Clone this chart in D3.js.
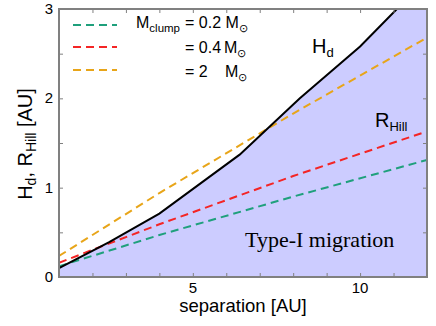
<!DOCTYPE html>
<html>
<head>
<meta charset="utf-8">
<script src="https://cdn.jsdelivr.net/npm/d3@7"></script>
<style>
  body { margin: 0; background: #fff; }
  svg { display: block; font-family: "Liberation Sans", Arial, sans-serif; }
</style>
</head>
<body>
<div id="chart"></div>
<script>
// data
var hdSep = [1, 2.5, 4, 6.4, 8.2, 10, 11.1, 12];
var hdVal = [0.10, 0.39, 0.71, 1.37, 2.0, 2.58, 3.0, 3.32];

var lineSep = [1, 4, 8, 12];
var rhill02 = [0.12, 0.47, 0.90, 1.31];
var rhill04 = [0.16, 0.59, 1.13, 1.63];
var rhill2  = [0.235, 0.94, 1.83, 2.68];

var legendLabels = ["= 0.2", "= 0.4", "= 2"];
var seriesColors = ["#1fa07c", "#f42525", "#e8a519"];

var xTicks = [5, 10];
var yTicks = [0, 1, 2, 3];

var margin = { top: 9, right: 9, bottom: 49, left: 59 },
    width = 436 - margin.left - margin.right,
    height = 326 - margin.top - margin.bottom;

var svg = d3.select("#chart")
    .append("svg")
    .attr("width", 436)
    .attr("height", 326);

var g = svg.append("g")
    .attr("transform", "translate(" + margin.left + "," + margin.top + ")");

var x = d3.scaleLinear().domain([1, 12]).range([0, width]);
var y = d3.scaleLinear().domain([0, 3]).range([height, 0]);

g.append("clipPath").attr("id", "clip")
    .append("rect").attr("width", width).attr("height", height);

var plot = g.append("g").attr("clip-path", "url(#clip)");

// shaded region below H_d
var hd = hdSep.map(function (s, i) { return [s, hdVal[i]]; });
plot.append("path")
    .datum(hd)
    .attr("fill", "#ccccff")
    .attr("d", d3.area()
        .x(function (d) { return x(d[0]); })
        .y0(y(0))
        .y1(function (d) { return y(d[1]); }));

var line = d3.line()
    .x(function (d) { return x(d[0]); })
    .y(function (d) { return y(d[1]); });

// R_Hill lines
[rhill02, rhill04, rhill2].forEach(function (vals, i) {
    plot.append("path")
        .datum(lineSep.map(function (s, j) { return [s, vals[j]]; }))
        .attr("fill", "none")
        .attr("stroke", seriesColors[i])
        .attr("stroke-width", 2)
        .attr("stroke-dasharray", "8,5")
        .attr("d", line);
});

// H_d line
plot.append("path")
    .datum(hd)
    .attr("fill", "none")
    .attr("stroke", "#000")
    .attr("stroke-width", 2)
    .attr("d", line);

// frame + ticks (inward, on all four sides)
var frameCol = "#808080";
function tickAxis(axis) {
    return function (sel) {
        sel.call(axis);
        sel.select(".domain").remove();
        sel.selectAll("line").attr("stroke", frameCol);
    };
}
var xMinor = d3.range(1, 13);
var yMinor = d3.range(0, 3.01, 0.5);

g.append("g").attr("transform", "translate(0," + height + ")")
    .call(tickAxis(d3.axisTop(x).tickValues(xMinor).tickSize(4).tickFormat("")));
g.append("g")
    .call(tickAxis(d3.axisBottom(x).tickValues(xMinor).tickSize(4).tickFormat("")));
g.append("g")
    .call(tickAxis(d3.axisRight(y).tickValues(yMinor).tickSize(4).tickFormat("")));
g.append("g").attr("transform", "translate(" + width + ",0)")
    .call(tickAxis(d3.axisLeft(y).tickValues(yMinor).tickSize(4).tickFormat("")));

g.append("rect")
    .attr("width", width).attr("height", height)
    .attr("fill", "none").attr("stroke", frameCol).attr("stroke-width", 2);

// tick labels
g.selectAll(".xl").data(xTicks).enter().append("text")
    .attr("x", function (d) { return x(d); })
    .attr("y", height + 16)
    .attr("text-anchor", "middle")
    .style("font-size", "15px")
    .text(function (d) { return d; });

g.selectAll(".yl").data(yTicks).enter().append("text")
    .attr("x", -6)
    .attr("y", function (d) { return y(d) + 5; })
    .attr("text-anchor", "end")
    .style("font-size", "15px")
    .text(function (d) { return d; });

// axis titles
svg.append("text")
    .attr("x", 243).attr("y", 312)
    .attr("text-anchor", "middle")
    .style("font-size", "18.5px")
    .text("separation [AU]");

var yt = svg.append("text")
    .attr("transform", "translate(32,144) rotate(-90)")
    .attr("text-anchor", "middle")
    .style("font-size", "20px");
yt.append("tspan").text("H");
yt.append("tspan").attr("dy", 4).style("font-size", "14px").text("d");
yt.append("tspan").attr("dy", -4).text(", R");
yt.append("tspan").attr("dy", 4).style("font-size", "14px").text("Hill");
yt.append("tspan").attr("dy", -4).text(" [AU]");

// curve labels
var hl = svg.append("text").attr("x", 312).attr("y", 53).style("font-size", "20px");
hl.append("tspan").text("H");
hl.append("tspan").attr("dy", 4).style("font-size", "13px").text("d");

var rl = svg.append("text").attr("x", 375).attr("y", 127).style("font-size", "20px");
rl.append("tspan").text("R");
rl.append("tspan").attr("dy", 4).style("font-size", "13px").text("Hill");

svg.append("text")
    .attr("x", 245).attr("y", 247)
    .style("font-family", "'Liberation Serif', 'Times New Roman', serif")
    .style("font-size", "22px")
    .text("Type-I migration");

// legend
var legY = [25, 47, 70];
var legBase = [28, 53, 77];
legendLabels.forEach(function (lab, i) {
    svg.append("line")
        .attr("x1", 73).attr("x2", 117)
        .attr("y1", legY[i]).attr("y2", legY[i])
        .attr("stroke", seriesColors[i])
        .attr("stroke-width", 2)
        .attr("stroke-dasharray", "8,5");
    var t = svg.append("text")
        .attr("y", legBase[i])
        .style("font-size", "16px");
    if (i === 0) {
        t.attr("x", 136);
        t.append("tspan").text("M");
        t.append("tspan").attr("dy", 4).style("font-size", "11.5px").text("clump");
        t.append("tspan").attr("dy", -4).attr("x", 185).text(lab + " M");
    } else {
        t.attr("x", 185);
        t.append("tspan").text(lab);
        t.append("tspan").attr("x", i === 2 ? 225 : 224).text("M");
    }
    t.append("tspan").attr("dy", 4).style("font-size", "11px").text("\u2299");
});
</script>
</body>
</html>
